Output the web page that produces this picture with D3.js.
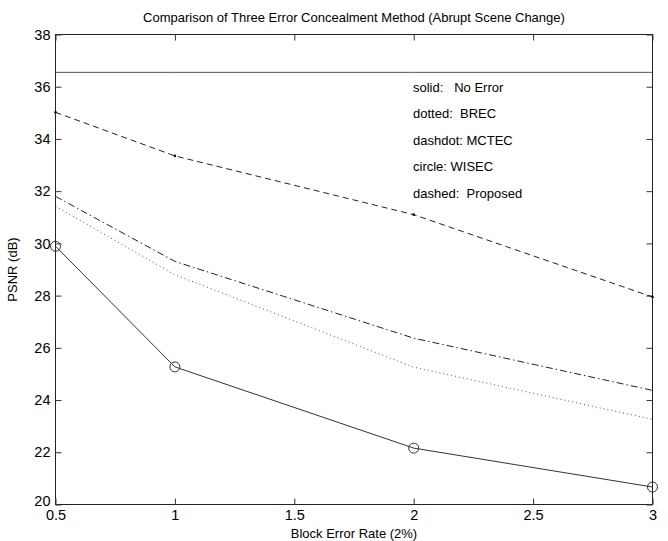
<!DOCTYPE html>
<html><head><meta charset="utf-8">
<script src="https://cdn.jsdelivr.net/npm/d3@7"></script>
<style>body{margin:0;background:#fff}svg{display:block}text{font-family:"Liberation Sans",Arial,sans-serif;fill:#000}</style>
</head><body><svg id="c" width="668" height="541"></svg>
<script>
const rates = [0.5, 1, 2, 3];
const noError = [36.55, 36.55, 36.55, 36.55];
const brec = [31.42, 28.8, 25.26, 23.26];
const mctec = [31.8, 29.31, 26.37, 24.37];
const wisec = [29.89, 25.27, 22.16, 20.67];
const proposed = [35.02, 33.35, 31.1, 27.95];
const xTicks = [0.5, 1, 1.5, 2, 2.5, 3];
const yTicks = [20, 22, 24, 26, 28, 30, 32, 34, 36, 38];
const legendLines = ["solid:   No Error", "dotted:  BREC", "dashdot: MCTEC", "circle: WISEC", "dashed:  Proposed"];

const svg = d3.select("#c");
const L = 55.5, R = 652.5, T = 34.5, B = 504.5;
const x = d3.scaleLinear().domain([0.5, 3]).range([L, R]);
const y = d3.scaleLinear().domain([20, 38]).range([B, T]);

svg.append("rect").attr("x", L).attr("y", T).attr("width", R - L).attr("height", B - T)
  .attr("fill", "none").attr("stroke", "#222").attr("stroke-width", 1);

const tickFmt = d => String(d);
const styleTicks = g => { g.select(".domain").remove(); g.selectAll("text").attr("font-size", 14.5).style("font-family", "Liberation Sans, Arial, sans-serif"); g.selectAll("line").attr("stroke", "#333"); };
svg.append("g").attr("transform", `translate(0,${B})`)
  .call(d3.axisBottom(x).tickValues(xTicks).tickSize(-6).tickPadding(5.5).tickFormat(tickFmt))
  .call(styleTicks);
svg.append("g").attr("transform", `translate(0,${T})`)
  .call(d3.axisTop(x).tickValues(xTicks).tickSize(-6).tickFormat(""))
  .call(styleTicks);
svg.append("g").attr("transform", `translate(${L},0)`)
  .call(d3.axisLeft(y).tickValues(yTicks).tickSize(-6).tickPadding(5).tickFormat(tickFmt))
  .call(styleTicks)
  .call(g => g.selectAll(".tick").filter(d => d === 20).select("text").attr("dy", "0.1em"));
svg.append("g").attr("transform", `translate(${R},0)`)
  .call(d3.axisRight(y).tickValues(yTicks).tickSize(-6).tickFormat(""))
  .call(styleTicks);

const line = d3.line().x((d, i) => x(rates[i])).y(d => y(d));
function series(vals, dash, color) {
  svg.append("path").datum(vals).attr("d", line).attr("fill", "none")
    .attr("stroke", color).attr("stroke-width", 1).attr("stroke-dasharray", dash);
}
series(noError, null, "#555");
series(brec, "1,3", "#555");
series(mctec, "7,3,1.5,3", "#222");
series(wisec, null, "#333");
series(proposed, "6,4", "#222");

svg.selectAll("circle.w").data(wisec).enter().append("circle")
  .attr("cx", (d, i) => x(rates[i])).attr("cy", d => y(d)).attr("r", 5)
  .attr("fill", "none").attr("stroke", "#333").attr("stroke-width", 1);
svg.selectAll("circle.p").data(proposed).enter().append("circle")
  .attr("cx", (d, i) => x(rates[i])).attr("cy", d => y(d)).attr("r", 1.3)
  .attr("fill", "#111");

svg.selectAll("text.leg").data(legendLines).enter().append("text")
  .attr("x", 413).attr("y", (d, i) => 91.5 + i * 26.5)
  .attr("font-size", 13).attr("xml:space", "preserve").style("white-space", "pre")
  .text(d => d);

svg.append("text").attr("x", (L + R) / 2).attr("y", 22).attr("text-anchor", "middle")
  .attr("font-size", 13).text("Comparison of Three Error Concealment Method (Abrupt Scene Change)");
svg.append("text").attr("x", (L + R) / 2).attr("y", 538).attr("text-anchor", "middle")
  .attr("font-size", 13).text("Block Error Rate (2%)");
svg.append("text").attr("transform", `translate(17,${(T + B) / 2}) rotate(-90)`).attr("text-anchor", "middle")
  .attr("font-size", 13).text("PSNR (dB)");
</script></body></html>
